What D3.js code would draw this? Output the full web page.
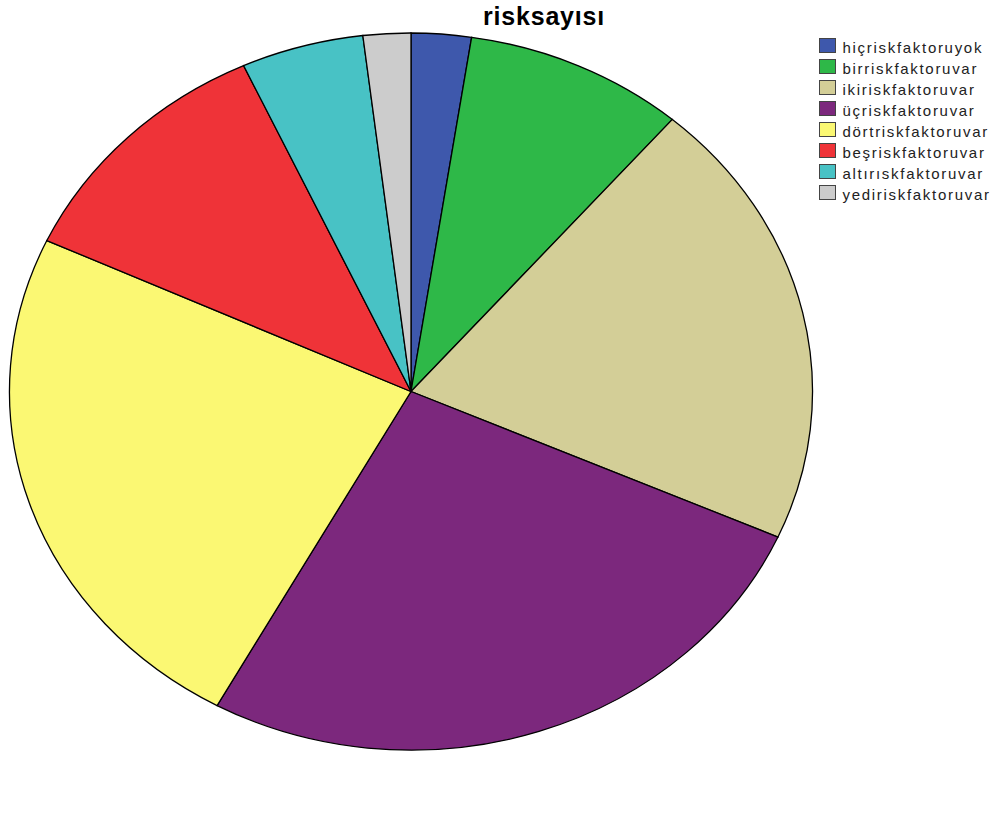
<!DOCTYPE html>
<html><head><meta charset="utf-8">
<script src="https://cdn.jsdelivr.net/npm/d3@7"></script>
<style>body{margin:0;background:#fff}svg{display:block}</style>
</head><body>
<svg id="c" width="998" height="829"></svg>
<script>
const categories = ["hiçriskfaktoruyok","birriskfaktoruvar","ikiriskfaktoruvar","üçriskfaktoruvar","dörtriskfaktoruvar","beşriskfaktoruvar","altırıskfaktoruvar","yediriskfaktoruvar"];
const values = [2.42, 8.87, 20.36, 26.37, 23.9, 11.24, 4.92, 1.92];
const colors = ["#3E58AC","#2EB848","#D3CE97","#7C287D","#FBF873","#EF3338","#48C2C5","#CCCCCC"];
const title = "risksayısı";

const svg = d3.select("#c");
const cx = 411, cy = 391.5, rx = 401.5, ry = 358.5;

svg.append("text").attr("x", 544).attr("y", 25).attr("text-anchor","middle")
  .attr("font-family","Liberation Sans, Arial, sans-serif").attr("font-weight","bold")
  .attr("font-size", 25).attr("letter-spacing", 0.8).attr("fill","#000").text(title);

const pie = d3.pie().sort(null).value(d => d)(values);
const arc = d3.arc().innerRadius(0).outerRadius(1);
const g = svg.append("g").attr("transform", `translate(${cx},${cy}) scale(${rx},${ry})`);
g.selectAll("path").data(pie).join("path")
  .attr("d", arc).attr("fill", (d,i) => colors[i])
  .attr("stroke", "#000").attr("stroke-width", 1.3)
  .attr("vector-effect", "non-scaling-stroke");

const lg = svg.append("g").attr("transform", "translate(819.5,38.5)");
const row = lg.selectAll("g").data(categories).join("g")
  .attr("transform", (d,i) => `translate(0,${i*21})`);
row.append("rect").attr("x",0).attr("y",0).attr("width",16).attr("height",14)
  .attr("fill",(d,i)=>colors[i]).attr("stroke","#444").attr("stroke-width",1);
row.append("text").attr("x",23).attr("y",14)
  .attr("font-family","Liberation Sans, Arial, sans-serif").attr("font-size",15)
  .attr("letter-spacing",1.7).attr("fill","#222").text(d=>d);
</script>
</body></html>
